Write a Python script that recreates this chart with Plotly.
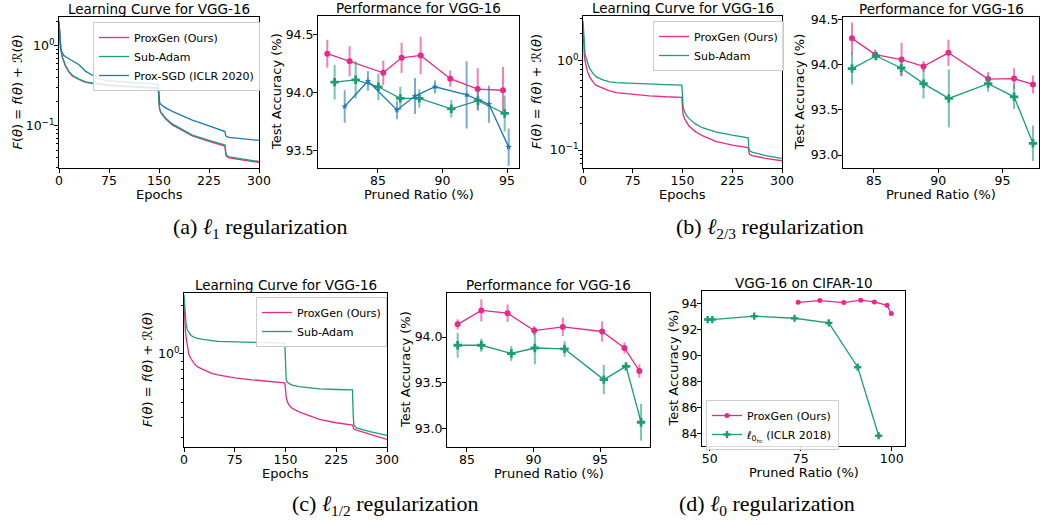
import plotly.graph_objects as go

# ---------------- DATA ----------------
# (a) l1 learning curves
ep_a = [0, 1, 2, 3, 5, 7, 10, 15, 20, 30, 40, 50, 75, 100, 125, 149, 150, 151, 153, 156, 160, 170, 180, 200, 225, 249, 250, 251, 255, 275, 300]
a_proxgen = [2.0, 1.3, 1.0, 0.88, 0.72, 0.63, 0.55, 0.47, 0.42, 0.38, 0.35, 0.34, 0.32, 0.31, 0.30, 0.295, 0.2, 0.16, 0.145, 0.135, 0.122, 0.103, 0.092, 0.075, 0.064, 0.056, 0.046, 0.042, 0.040, 0.038, 0.035]
a_subadam = [2.0, 1.3, 1.0, 0.89, 0.73, 0.64, 0.56, 0.48, 0.43, 0.385, 0.355, 0.345, 0.325, 0.315, 0.305, 0.30, 0.2, 0.162, 0.148, 0.138, 0.125, 0.106, 0.095, 0.077, 0.066, 0.058, 0.047, 0.043, 0.041, 0.039, 0.036]
ep_a_sgd = [0, 1, 2, 3, 5, 7, 10, 15, 20, 25, 30, 35, 40, 50, 60, 75, 100, 125, 149, 150, 151, 153, 156, 160, 170, 180, 200, 225, 249, 250, 251, 255, 275, 300]
a_proxsgd = [2.0, 1.2, 0.95, 0.88, 0.80, 0.76, 0.73, 0.69, 0.65, 0.61, 0.58, 0.53, 0.48, 0.43, 0.39, 0.365, 0.352, 0.34, 0.33, 0.25, 0.195, 0.185, 0.178, 0.168, 0.152, 0.140, 0.118, 0.100, 0.085, 0.076, 0.074, 0.072, 0.069, 0.066]

# (a) l1 performance
a_px_x = [81.07, 82.8, 85.41, 86.83, 88.31, 90.6, 92.73, 94.69]
a_px_y = [94.335, 94.27, 94.17, 94.30, 94.32, 94.12, 94.03, 94.02]
a_px_e = [0.12, 0.13, 0.105, 0.13, 0.16, 0.07, 0.18, 0.2]
a_sa_x = [81.64, 83.27, 85.03, 86.73, 88.2, 90.68, 92.75, 94.82]
a_sa_y = [94.09, 94.11, 94.05, 93.95, 93.95, 93.86, 93.93, 93.82]
a_sa_e = [0.15, 0.16, 0.115, 0.1, 0.08, 0.075, 0.085, 0.155]
a_sg_x = [82.42, 84.22, 86.47, 87.87, 89.42, 91.87, 93.6, 95.13]
a_sg_y = [93.88, 94.10, 93.85, 93.97, 94.05, 93.98, 93.90, 93.53]
a_sg_e = [0.14, 0.085, 0.08, 0.155, 0.055, 0.29, 0.16, 0.16]

# (b) l2/3 learning curves
ep_b = [0, 1, 2, 3, 5, 7, 10, 15, 20, 30, 40, 50, 75, 100, 125, 149, 150, 151, 153, 156, 160, 170, 180, 200, 225, 249, 250, 251, 255, 275, 300]
b_proxgen = [2.4, 1.5, 1.15, 1.0, 0.86, 0.75, 0.66, 0.58, 0.53, 0.49, 0.46, 0.44, 0.42, 0.405, 0.395, 0.39, 0.3, 0.25, 0.225, 0.205, 0.185, 0.16, 0.145, 0.125, 0.114, 0.107, 0.095, 0.09, 0.087, 0.081, 0.076]
b_subadam = [2.8, 1.8, 1.35, 1.2, 1.06, 0.93, 0.82, 0.72, 0.66, 0.61, 0.58, 0.57, 0.557, 0.548, 0.54, 0.534, 0.4, 0.30, 0.27, 0.245, 0.225, 0.195, 0.178, 0.16, 0.147, 0.137, 0.105, 0.098, 0.095, 0.087, 0.081]

# (b) l2/3 performance
b_px_x = [83.29, 85.10, 87.15, 88.86, 90.80, 93.89, 95.91, 97.38]
b_px_y = [94.29, 94.11, 94.055, 93.98, 94.13, 93.84, 93.845, 93.78]
b_px_e = [0.175, 0.055, 0.185, 0.06, 0.145, 0.08, 0.115, 0.1]
b_sa_x = [83.29, 85.16, 87.12, 88.86, 90.83, 93.89, 95.91, 97.38]
b_sa_y = [93.956, 94.095, 93.963, 93.79, 93.626, 93.79, 93.644, 93.13]
b_sa_e = [0.176, 0.03, 0.088, 0.165, 0.32, 0.09, 0.134, 0.196]

# (c) l1/2 learning curves
ep_c = [0, 1, 2, 3, 5, 7, 10, 15, 20, 30, 40, 50, 75, 100, 125, 149, 150, 151, 153, 156, 160, 170, 180, 200, 225, 249, 250, 251, 255, 275, 300]
c_proxgen = [2.18, 1.6, 1.4, 1.28, 1.08, 1.0, 0.94, 0.87, 0.83, 0.79, 0.76, 0.74, 0.71, 0.69, 0.675, 0.66, 0.6, 0.54, 0.5, 0.475, 0.457, 0.435, 0.42, 0.39, 0.372, 0.36, 0.35, 0.34, 0.335, 0.316, 0.293]
c_subadam = [2.34, 1.9, 1.7, 1.55, 1.41, 1.36, 1.31, 1.27, 1.25, 1.23, 1.21, 1.20, 1.19, 1.18, 1.175, 1.17, 0.9, 0.69, 0.665, 0.65, 0.64, 0.625, 0.618, 0.605, 0.60, 0.596, 0.42, 0.36, 0.345, 0.327, 0.31]

# (c) l1/2 performance
c_px_x = [84.3, 86.08, 88.05, 90.05, 92.2, 95.15, 96.83, 97.95]
c_px_y = [94.138, 94.29, 94.26, 94.07, 94.11, 94.06, 93.88, 93.63]
c_px_e = [0.055, 0.12, 0.095, 0.05, 0.1, 0.11, 0.06, 0.073]
c_sa_x = [84.3, 86.08, 88.33, 90.1, 92.33, 95.28, 96.95, 98.08]
c_sa_y = [93.91, 93.91, 93.82, 93.88, 93.87, 93.535, 93.68, 93.07]
c_sa_e = [0.135, 0.073, 0.08, 0.178, 0.085, 0.16, 0.027, 0.2]

# (d) l0 performance
d_px_x = [74.31, 80.26, 86.84, 91.5, 95.25, 98.72, 99.9]
d_px_y = [94.10, 94.23, 94.08, 94.26, 94.13, 93.87, 93.23]
d_hc_x = [49.45, 50.73, 62.25, 73.31, 82.72, 90.68, 96.43]
d_hc_y = [92.77, 92.77, 93.03, 92.87, 92.51, 89.10, 83.82]

epoch_ticks = [0, 75, 150, 225, 300]
log_tickvals = [0.1, 1]
log_ticktext = ["10<sup>\u22121</sup>", "10<sup>0</sup>"]
log_minor = [0.02, 0.03, 0.04, 0.05, 0.06, 0.07, 0.08, 0.09, 0.2, 0.3, 0.4, 0.5, 0.6, 0.7, 0.8, 0.9, 2, 3, 4]
acc_ticks_a = [93.5, 94.0, 94.5]
acc_ticks_b = [93.0, 93.5, 94.0, 94.5]
acc_ticks_c = [93.0, 93.5, 94.0]
ratio_ticks = [85, 90, 95]
d_xticks = [50, 75, 100]
d_yticks = [84, 86, 88, 90, 92, 94]

# ---------------- STYLE ----------------
W, H = 1040, 525
PINK = "#e7298a"
GREEN = "#1b9e77"
BLUE = "#1f77b4"
PINK_A = "rgba(231,41,138,0.6)"
GREEN_A = "rgba(27,158,119,0.6)"
BLUE_A = "rgba(31,119,180,0.6)"
FONT = "DejaVu Sans"

def px(x):
    return x / W

def py(y):
    return 1 - y / H

# panel boxes in pixels: left, right, top, bottom
boxes = {
    1: (59, 259, 17, 168),
    2: (318, 519, 16, 168),
    3: (583, 782, 16, 168),
    4: (843, 1039, 17, 168),
    5: (184, 387, 293, 447),
    6: (447, 650, 293, 447),
    7: (702, 905, 291, 446),
}

fig = go.Figure()

def axname(i, a):
    return f"{a}axis" if i == 1 else f"{a}axis{i}"

def ref(i, a):
    return a if i == 1 else f"{a}{i}"

base_ax = dict(showline=True, mirror=True, linecolor="black", linewidth=1,
               ticks="outside", ticklen=4, tickwidth=1, tickcolor="black",
               showgrid=False, zeroline=False, automargin=False,
               ticklabelstandoff=-3,
               tickfont=dict(family=FONT, size=12.5, color="black"))

layout_axes = {}
for i, (l, r, t, b) in boxes.items():
    layout_axes[axname(i, "x")] = dict(base_ax, domain=[px(l), min(px(r), 1)], anchor=ref(i, "y"))
    layout_axes[axname(i, "y")] = dict(base_ax, domain=[py(b), py(t)], anchor=ref(i, "x"))

# learning curve axes
for i, yr in [(1, [-1.525, 0.36]), (3, [-1.20, 0.50]), (5, [-0.581, 0.381])]:
    layout_axes[axname(i, "x")].update(range=[0, 300], tickmode="array", tickvals=epoch_ticks)
    layout_axes[axname(i, "y")].update(type="log", range=yr, tickmode="array",
                                       tickvals=log_tickvals, ticktext=log_ticktext,
                                       minor=dict(ticks="outside", ticklen=2, tickcolor="black",
                                                  tickmode="array", tickvals=log_minor))

layout_axes["xaxis2"].update(range=[80.35, 95.93], tickmode="array", tickvals=ratio_ticks)
layout_axes["yaxis2"].update(range=[93.35, 94.66], tickmode="array", tickvals=acc_ticks_a,
                             tickformat=".1f")
layout_axes["xaxis4"].update(range=[82.59, 97.85], tickmode="array", tickvals=ratio_ticks)
layout_axes["yaxis4"].update(range=[92.857, 94.526], tickmode="array", tickvals=acc_ticks_b,
                             tickformat=".1f")
layout_axes["xaxis6"].update(range=[83.5, 98.75], tickmode="array", tickvals=ratio_ticks)
layout_axes["yaxis6"].update(range=[92.8, 94.48], tickmode="array", tickvals=acc_ticks_c,
                             tickformat=".1f")
layout_axes["xaxis7"].update(range=[47.9, 103.66], tickmode="array", tickvals=d_xticks)
layout_axes["yaxis7"].update(range=[83.03, 94.97], tickmode="array", tickvals=d_yticks)

def line(i, x, y, color, name, legend=None, show=True):
    fig.add_trace(go.Scatter(x=x, y=y, mode="lines", line=dict(color=color, width=1.3),
                             name=name, showlegend=show and legend is not None,
                             legend=legend, xaxis=ref(i, "x"), yaxis=ref(i, "y")))

def perf(i, x, y, e, color, ecolor, symbol, size):
    fig.add_trace(go.Scatter(x=x, y=y, mode="lines+markers",
                             line=dict(color=color, width=1.3),
                             marker=dict(symbol=symbol, size=size, color=color),
                             error_y=dict(type="data", array=e, color=ecolor, thickness=2, width=0),
                             showlegend=False, xaxis=ref(i, "x"), yaxis=ref(i, "y")))

# panel 1
line(1, ep_a, a_proxgen, PINK, "ProxGen (Ours)", "legend")
line(1, ep_a, a_subadam, GREEN, "Sub-Adam", "legend")
line(1, ep_a_sgd, a_proxsgd, BLUE, "Prox-SGD (ICLR 2020)", "legend")
# panel 2
perf(2, a_px_x, a_px_y, a_px_e, PINK, PINK_A, "circle", 6)
perf(2, a_sa_x, a_sa_y, a_sa_e, GREEN, GREEN_A, "cross", 7)
perf(2, a_sg_x, a_sg_y, a_sg_e, BLUE, BLUE_A, "star", 5)
# panel 3
line(3, ep_b, b_proxgen, PINK, "ProxGen (Ours)", "legend2")
line(3, ep_b, b_subadam, GREEN, "Sub-Adam", "legend2")
# panel 4
perf(4, b_px_x, b_px_y, b_px_e, PINK, PINK_A, "circle", 6)
perf(4, b_sa_x, b_sa_y, b_sa_e, GREEN, GREEN_A, "cross", 7)
# panel 5
line(5, ep_c, c_proxgen, PINK, "ProxGen (Ours)", "legend3")
line(5, ep_c, c_subadam, GREEN, "Sub-Adam", "legend3")
# panel 6
perf(6, c_px_x, c_px_y, c_px_e, PINK, PINK_A, "circle", 6)
perf(6, c_sa_x, c_sa_y, c_sa_e, GREEN, GREEN_A, "cross", 7)
# panel 7
fig.add_trace(go.Scatter(x=d_px_x, y=d_px_y, mode="lines+markers", name="ProxGen (Ours)",
                         line=dict(color=PINK, width=1.3), marker=dict(symbol="circle", size=5, color=PINK),
                         legend="legend4", xaxis="x7", yaxis="y7"))
fig.add_trace(go.Scatter(x=d_hc_x, y=d_hc_y, mode="lines+markers",
                         name="<i>\u2113</i><sub>0<sub>hc</sub></sub> (ICLR 2018)",
                         line=dict(color=GREEN, width=1.3), marker=dict(symbol="cross", size=6, color=GREEN),
                         legend="legend4", xaxis="x7", yaxis="y7"))

leg_base = dict(bgcolor="rgba(255,255,255,0.85)", bordercolor="#cccccc", borderwidth=1,
                font=dict(family=FONT, size=11, color="black"), tracegroupgap=0,
                xanchor="left", yanchor="top")

annotations = []

def ann(x, y, text, size=12, angle=0, family=FONT, xanchor="center"):
    annotations.append(dict(x=px(x), y=py(y), xref="paper", yref="paper", text=text,
                            showarrow=False, textangle=angle, xanchor=xanchor, yanchor="middle",
                            font=dict(family=family, size=size, color="black")))

ylab_lc = "<i>F</i>(<i>\u03b8</i>) = <i>f</i>(<i>\u03b8</i>) + \u211b(<i>\u03b8</i>)"
ylab_acc = "Test Accuracy (%)"

titles = {1: "Learning Curve for VGG-16", 2: "Performance for VGG-16", 3: "Learning Curve for VGG-16",
          4: "Performance for VGG-16", 5: "Learning Curve for VGG-16", 6: "Performance for VGG-16",
          7: "VGG-16 on CIFAR-10"}
xlabs = {1: "Epochs", 2: "Pruned Ratio (%)", 3: "Epochs", 4: "Pruned Ratio (%)", 5: "Epochs",
         6: "Pruned Ratio (%)", 7: "Pruned Ratio (%)"}
ylabx = {1: 17, 2: 277, 3: 537, 4: 799, 5: 147, 6: 405, 7: 673}
for i, (l, r, t, b) in boxes.items():
    ann((l + r) / 2, t - 8, titles[i], size=13.5)
    ann((l + r) / 2, b + 26, xlabs[i], size=13)
    ann(ylabx[i], (t + b) / 2, ylab_lc if i in (1, 3, 5) else ylab_acc, size=13, angle=-90)

SERIF = "Liberation Serif"
ann(260, 228, "(a) <i>\u2113</i><sub>1</sub> regularization", size=22, family=SERIF)
ann(770, 228, "(b) <i>\u2113</i><sub>2/3</sub> regularization", size=22, family=SERIF)
ann(385, 505, "(c) <i>\u2113</i><sub>1/2</sub> regularization", size=22, family=SERIF)
ann(767, 505, "(d) <i>\u2113</i><sub>0</sub> regularization", size=22, family=SERIF)

fig.update_layout(
    width=W, height=H, autosize=False,
    margin=dict(l=0, r=0, t=0, b=0),
    paper_bgcolor="white", plot_bgcolor="white",
    annotations=annotations,
    legend=dict(leg_base, x=px(93), y=py(22)),
    legend2=dict(leg_base, x=px(653), y=py(21)),
    legend3=dict(leg_base, x=px(256), y=py(297)),
    legend4=dict(leg_base, x=px(706), y=py(400)),
    **layout_axes,
)

# remove the browser's default page margin so the figure sits at the window origin
fig.write_html("out.html", config={"displayModeBar": False},
               post_script="document.body.style.margin='0';document.body.style.overflow='hidden';")
